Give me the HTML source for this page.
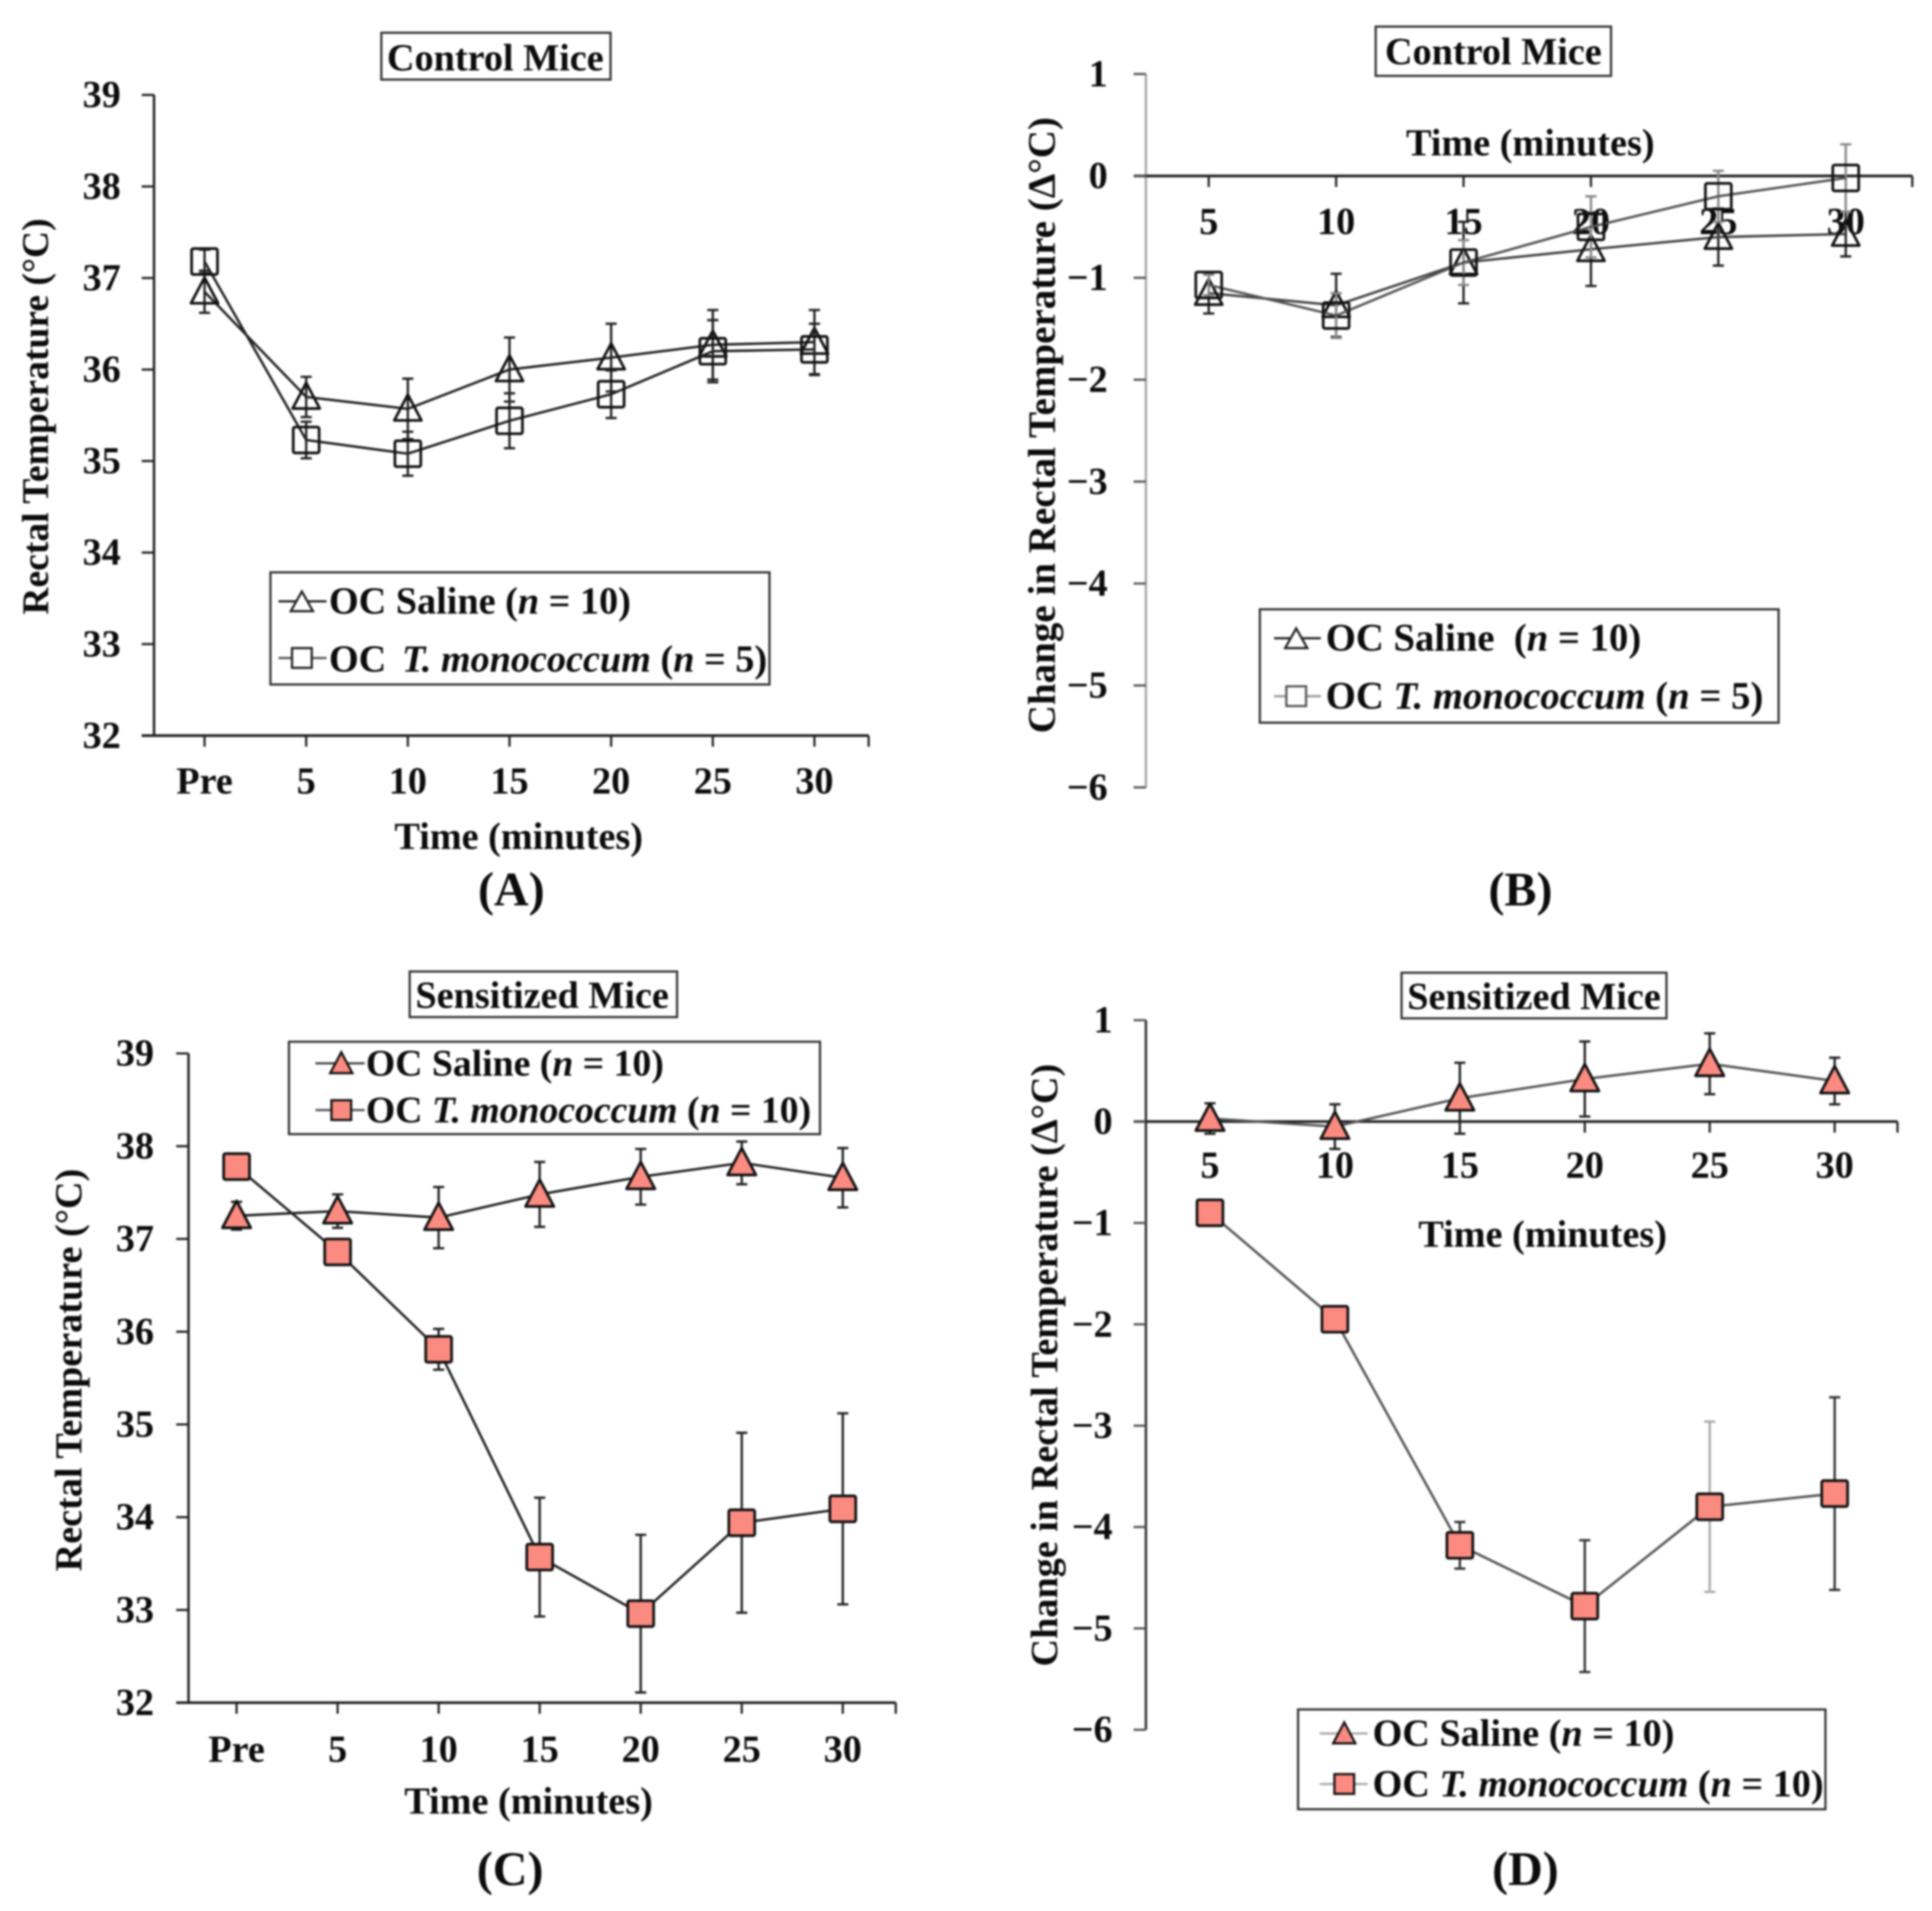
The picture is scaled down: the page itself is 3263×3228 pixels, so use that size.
<!DOCTYPE html>
<html>
<head>
<meta charset="utf-8">
<title>Rectal temperature charts</title>
<style>
html,body{margin:0;padding:0;background:#fff;width:3263px;height:3228px;overflow:hidden}
svg{display:block;filter:blur(1.5px)}
text{font-family:"Liberation Serif",serif;font-weight:bold;fill:#0c0c0c}
.t{font-size:31px}
.panel{font-size:39px;text-anchor:middle}
.ttl{font-size:31px;text-anchor:middle}
.box{fill:#fff;stroke:#333;stroke-width:1.8}
</style>
</head>
<body>
<svg id="fig" xmlns="http://www.w3.org/2000/svg" width="3263" height="3228" viewBox="0 0 1568 1551">
  <rect width="1568" height="1551" fill="#fff"/>
  <g id="charts"></g>

  <g>
    <rect class="box" x="309.5" y="26.5" width="186" height="38"/>
    <text class="ttl" x="402" y="57">Control Mice</text>
    <text class="t" text-anchor="middle" style="font-size:30.5px" transform="translate(39,338) rotate(-90)">Rectal Temperature (°C)</text>
    <text class="t" text-anchor="middle" x="421" y="689">Time (minutes)</text>
    <text class="panel" x="415" y="735">(A)</text>
  </g>
  <g>
    <rect class="box" x="1116.5" y="21.5" width="191" height="40"/>
    <text class="ttl" x="1212" y="52">Control Mice</text>
    <text class="t" text-anchor="middle" style="font-size:31.7px" transform="translate(856,345) rotate(-90)">Change in Rectal Temperature (Δ°C)</text>
    <text class="t" text-anchor="middle" x="1242" y="126">Time (minutes)</text>
    <text class="panel" x="1234" y="735">(B)</text>
  </g>
  <g>
    <rect class="box" x="332.5" y="788.5" width="217" height="37"/>
    <text class="ttl" x="440" y="818">Sensitized Mice</text>
    <text class="t" text-anchor="middle" transform="translate(66,1112) rotate(-90)">Rectal Temperature (°C)</text>
    <text class="t" text-anchor="middle" x="429" y="1472">Time (minutes)</text>
    <text class="panel" x="414" y="1530">(C)</text>
  </g>
  <g>
    <rect class="box" x="1137.5" y="789.5" width="215" height="37"/>
    <text class="ttl" x="1245" y="819">Sensitized Mice</text>
    <text class="t" text-anchor="middle" transform="translate(858,1108) rotate(-90)">Change in Rectal Temperature (Δ°C)</text>
    <text class="t" text-anchor="middle" x="1252" y="1012">Time (minutes)</text>
    <text class="panel" x="1238" y="1530">(D)</text>
  </g>

  <g>
    <rect class="box" x="219.5" y="464.5" width="405" height="91"/>
    <line x1="226" x2="265" y1="488" y2="488" stroke="#222" stroke-width="1.8"/>
    <polygon points="245,480 254,496 236,496" fill="#fff" stroke="#222" stroke-width="1.8"/>
    <text class="t" x="267" y="498">OC Saline (<tspan font-style="italic">n</tspan> = 10)</text>
    <line x1="226" x2="265" y1="534" y2="534" stroke="#555" stroke-width="1.8"/>
    <rect x="237" y="526" width="16" height="16" fill="#fff" stroke="#222" stroke-width="1.8"/>
    <text class="t" x="267" y="545">OC <tspan font-style="italic" dx="5">T. monococcum</tspan> (<tspan font-style="italic">n</tspan> = 5)</text>
  </g>
  <g>
    <rect class="box" x="1022.5" y="494.5" width="421" height="92"/>
    <line x1="1034" x2="1072" y1="518" y2="518" stroke="#222" stroke-width="1.8"/>
    <polygon points="1052,510 1061,526 1043,526" fill="#fff" stroke="#222" stroke-width="1.8"/>
    <text class="t" x="1076" y="528" xml:space="preserve" style="font-size:31.4px">OC Saline  (<tspan font-style="italic">n</tspan> = 10)</text>
    <line x1="1034" x2="1072" y1="565" y2="565" stroke="#999" stroke-width="1.8"/>
    <rect x="1044" y="557" width="16" height="16" fill="#fff" stroke="#555" stroke-width="1.8"/>
    <text class="t" x="1076" y="575" style="font-size:31.4px">OC <tspan font-style="italic">T. monococcum</tspan> (<tspan font-style="italic">n</tspan> = 5)</text>
  </g>
  <g>
    <rect class="box" x="234.5" y="845.5" width="431" height="75"/>
    <line x1="256" x2="296" y1="863" y2="863" stroke="#444" stroke-width="1.8"/>
    <polygon points="277,854 286,871 268,871" fill="#fb8a80" stroke="#111" stroke-width="1.8"/>
    <text class="t" x="297" y="873" style="font-size:30.6px">OC Saline (<tspan font-style="italic">n</tspan> = 10)</text>
    <line x1="256" x2="296" y1="901" y2="901" stroke="#555" stroke-width="1.8"/>
    <rect x="269" y="893" width="16" height="16" fill="#fb8a80" stroke="#111" stroke-width="1.8"/>
    <text class="t" x="297" y="911" style="font-size:30.6px">OC <tspan font-style="italic">T. monococcum</tspan> (<tspan font-style="italic">n</tspan> = 10)</text>
  </g>
  <g>
    <rect class="box" x="1053.5" y="1387.5" width="428" height="81"/>
    <line x1="1071" x2="1110" y1="1407" y2="1407" stroke="#aaa" stroke-width="1.8"/>
    <polygon points="1091,1398 1100,1415 1082,1415" fill="#fb8a80" stroke="#111" stroke-width="1.8"/>
    <text class="t" x="1114" y="1417">OC Saline (<tspan font-style="italic">n</tspan> = 10)</text>
    <line x1="1071" x2="1110" y1="1448" y2="1448" stroke="#aaa" stroke-width="1.8"/>
    <rect x="1083" y="1440" width="16" height="16" fill="#fb8a80" stroke="#111" stroke-width="1.8"/>
    <text class="t" x="1114" y="1458">OC <tspan font-style="italic">T. monococcum</tspan> (<tspan font-style="italic">n</tspan> = 10)</text>
  </g>
</svg>

<script>
// Chart data
const categoriesWithPre = ['Pre', '5', '10', '15', '20', '25', '30'];
const categoriesPost = ['5', '10', '15', '20', '25', '30'];
const absoluteTicks = [32, 33, 34, 35, 36, 37, 38, 39];
const changeTicks = [-6, -5, -4, -3, -2, -1, 0, 1];

const panelASaline = [36.85, 35.70, 35.57, 36.00, 36.13, 36.27, 36.30];
const panelASalineErr = [0.23, 0.22, 0.33, 0.35, 0.37, 0.38, 0.35];
const panelAMono = [37.18, 35.23, 35.08, 35.44, 35.73, 36.20, 36.22];
const panelAMonoErr = [0.13, 0.20, 0.24, 0.30, 0.26, 0.34, 0.28];

const panelBSaline = [-1.15, -1.27, -0.85, -0.72, -0.60, -0.57];
const panelBSalineErr = [0.20, 0.31, 0.40, 0.36, 0.28, 0.22];
const panelBMono = [-1.07, -1.37, -0.85, -0.50, -0.20, -0.02];
const panelBMonoErr = [0.10, 0.22, 0.22, 0.30, 0.25, 0.33];

const panelCSaline = [37.25, 37.30, 37.23, 37.48, 37.67, 37.82, 37.66];
const panelCSalineErr = [0.15, 0.18, 0.33, 0.35, 0.30, 0.23, 0.32];
const panelCMono = [37.78, 36.86, 35.81, 33.57, 32.96, 33.94, 34.09];
const panelCMonoErr = [0.08, 0.08, 0.22, 0.64, 0.85, 0.97, 1.03];

const panelDSaline = [0.03, -0.05, 0.23, 0.42, 0.57, 0.40];
const panelDSalineErr = [0.15, 0.22, 0.35, 0.37, 0.30, 0.23];
const panelDMono = [-0.90, -1.95, -4.18, -4.78, -3.80, -3.67];
const panelDMonoErr = [0.05, 0.05, 0.23, 0.65, 0.84, 0.95];

const NS = 'http://www.w3.org/2000/svg';
const root = document.getElementById('charts');

function mk(parent, tag, attrs, txt) {
  const e = document.createElementNS(NS, tag);
  for (const k in attrs) e.setAttribute(k, attrs[k]);
  if (txt !== undefined) e.textContent = txt;
  parent.appendChild(e);
  return e;
}

function fmt(v) {
  return v < 0 ? '\u2212' + Math.abs(v) : String(v);
}

function drawPanel(p) {
  const g = mk(root, 'g', {});
  
  

  const lo = p.ticks[0], hi = p.ticks[p.ticks.length - 1];
  const yAt = v => p.yBottom + (v - lo) * (p.yTop - p.yBottom) / (hi - lo);
  const xAt = i => p.x0 + i * p.step;
  const baseY = yAt(p.baseline);

  // axes
  const yAxis = mk(g, 'line', {x1: p.axisX, x2: p.axisX, y1: p.yTop, y2: p.yBottom, stroke: p.yAxisColor, 'stroke-width': 2});
  
  
  const xAxis = mk(g, 'line', {x1: p.axisX - 10, x2: p.xEnd, y1: baseY, y2: baseY, stroke: '#222', 'stroke-width': 2.2});
  
  

  const endTick = mk(g, 'line', {x1: p.xEnd, x2: p.xEnd, y1: baseY, y2: baseY + 9, stroke: '#222', 'stroke-width': 1.8});
  
  

  p.ticks.forEach(v => {
    const t = mk(g, 'line', {x1: p.axisX - 10, x2: p.axisX, y1: yAt(v), y2: yAt(v), stroke: p.yAxisColor === '#222' ? '#222' : '#555', 'stroke-width': 1.8});
    
    
    const l = mk(g, 'text', {x: p.axisX - p.yLabelGap, y: yAt(v) + 10, 'text-anchor': 'end', 'font-size': 31}, fmt(v));
    
    
  });

  p.categories.forEach((c, i) => {
    const t = mk(g, 'line', {x1: xAt(i), x2: xAt(i), y1: baseY, y2: baseY + 9, stroke: '#222', 'stroke-width': 1.8});
    
    
    const l = mk(g, 'text', {x: xAt(i), y: p.xLabelY, 'text-anchor': 'middle', 'font-size': 31}, c);
    
    
  });

  p.series.forEach(s => {
    const sg = mk(g, 'g', {});
    
    

    s.values.forEach((v, i) => {
      const x = xAt(i), a = yAt(v + s.err[i]), b = yAt(v - s.err[i]);
      const eb = mk(sg, 'path', {d: `M${x} ${a}V${b}M${x - 4.5} ${a}H${x + 4.5}M${x - 4.5} ${b}H${x + 4.5}`, fill: 'none', stroke: s.errColor(i), 'stroke-width': 1.9});
      
      
    });

    const pts = s.values.map((v, i) => xAt(i) + ',' + yAt(v)).join(' ');
    const line = mk(sg, 'polyline', {points: pts, fill: 'none', stroke: s.lineColor, 'stroke-width': 2});
    
    

    s.values.forEach((v, i) => {
      const x = xAt(i), y = yAt(v);
      let m;
      if (s.shape === 'tri') {
        const r = s.size;
        m = mk(sg, 'polygon', {points: `${x},${y - r * 1.05} ${x + r},${y + r * 0.85} ${x - r},${y + r * 0.85}`, fill: s.fill, stroke: '#111', 'stroke-width': 2.2, 'stroke-linejoin': 'round'});
      } else {
        const r = s.size;
        m = mk(sg, 'rect', {x: x - r, y: y - r, width: 2 * r, height: 2 * r, rx: 1.5, fill: s.fill, stroke: '#111', 'stroke-width': 2.2});
      }
      
      
    });
  });
}

const dark = () => '#222';
const gray = () => '#888';
const panelDErrColor = i => i === 4 ? '#aaa' : '#333';
const salmon = '#fb8a80';

drawPanel({
  id: 'a', categories: categoriesWithPre, ticks: absoluteTicks, baseline: 32,
  axisX: 125, xEnd: 705, yTop: 77, yBottom: 597, x0: 166, step: 82.5,
  yAxisColor: '#222', yLabelGap: 27, xLabelY: 644,
  series: [
    {name: 'saline', values: panelASaline, err: panelASalineErr, shape: 'tri', size: 11, fill: 'none', lineColor: '#222', errColor: dark},
    {name: 'monococcum', values: panelAMono, err: panelAMonoErr, shape: 'sq', size: 10.5, fill: 'none', lineColor: '#222', errColor: dark}
  ]
});

drawPanel({
  id: 'b', categories: categoriesPost, ticks: changeTicks, baseline: 0,
  axisX: 930, xEnd: 1552, yTop: 60, yBottom: 639, x0: 981, step: 103.4,
  yAxisColor: '#aaa', yLabelGap: 31, xLabelY: 190,
  series: [
    {name: 'saline', values: panelBSaline, err: panelBSalineErr, shape: 'tri', size: 11, fill: 'none', lineColor: '#444', errColor: dark},
    {name: 'monococcum', values: panelBMono, err: panelBMonoErr, shape: 'sq', size: 10.5, fill: 'none', lineColor: '#555', errColor: gray}
  ]
});

drawPanel({
  id: 'c', categories: categoriesWithPre, ticks: absoluteTicks, baseline: 32,
  axisX: 153, xEnd: 727, yTop: 855, yBottom: 1382, x0: 192, step: 82,
  yAxisColor: '#222', yLabelGap: 28, xLabelY: 1430,
  series: [
    {name: 'saline', values: panelCSaline, err: panelCSalineErr, shape: 'tri', size: 11.5, fill: salmon, lineColor: '#222', errColor: dark},
    {name: 'monococcum', values: panelCMono, err: panelCMonoErr, shape: 'sq', size: 10.5, fill: salmon, lineColor: '#222', errColor: dark}
  ]
});

drawPanel({
  id: 'd', categories: categoriesPost, ticks: changeTicks, baseline: 0,
  axisX: 930, xEnd: 1540, yTop: 828, yBottom: 1404, x0: 982, step: 101.4,
  yAxisColor: '#333', yLabelGap: 27, xLabelY: 956,
  series: [
    {name: 'saline', values: panelDSaline, err: panelDSalineErr, shape: 'tri', size: 11.5, fill: salmon, lineColor: '#555', errColor: dark},
    {name: 'monococcum', values: panelDMono, err: panelDMonoErr, shape: 'sq', size: 10.5, fill: salmon, lineColor: '#555', errColor: panelDErrColor}
  ]
});
</script>
</body>
</html>
